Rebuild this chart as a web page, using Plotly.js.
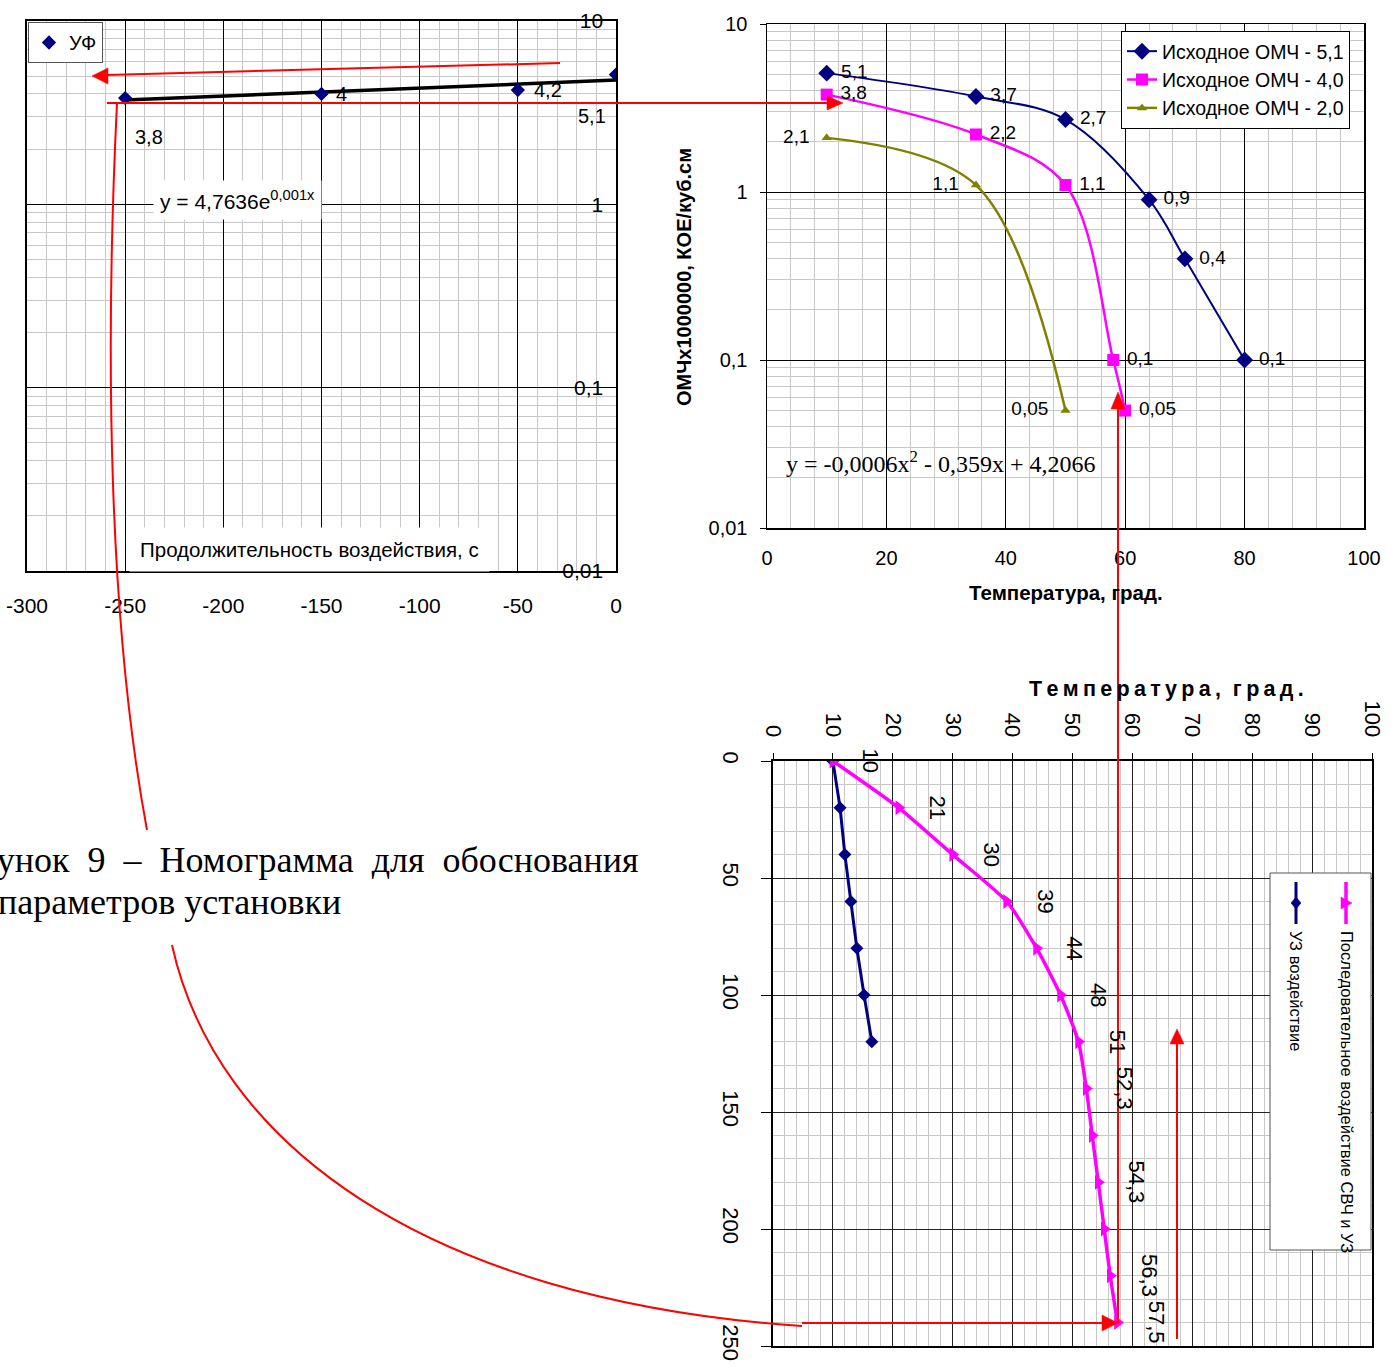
<!DOCTYPE html>
<html>
<head>
<meta charset="utf-8">
<script src="https://cdn.plot.ly/plotly-3.0.1.min.js"></script>
<style>
html,body{margin:0;padding:0;background:#fff;}
#chart{width:1398px;height:1369px;}
</style>
</head>
<body>
<div id="chart"></div>
<script>
// ---------- DATA ----------
// Top-left: UV exposure duration vs microbial count
const ufTime = [-250, -150, -50, 0];
const ufValue = [3.8, 4, 4.2, 5.1];
const ufTrendTime = [-250, 0];
const ufTrendValue = [3.71, 4.76];
const durationTicks = [-300, -250, -200, -150, -100, -50, 0];

// Top-right: temperature vs microbial count (three initial levels)
const temp51 = [10, 35, 50, 64, 70, 80];
const omch51 = [5.1, 3.7, 2.7, 0.9, 0.4, 0.1];
const temp40 = [10, 35, 50, 58, 60];
const omch40 = [3.8, 2.2, 1.1, 0.1, 0.05];
const temp20 = [10, 35, 50];
const omch20 = [2.1, 1.1, 0.05];
const seriesNames = ['Исходное ОМЧ - 5,1', 'Исходное ОМЧ - 4,0', 'Исходное ОМЧ - 2,0'];

// Bottom: exposure time vs temperature
const timeUZ = [0, 20, 40, 60, 80, 100, 120];
const tempUZ = [10, 11.2, 12, 13, 14, 15.2, 16.5];
const timeComb = [0, 20, 40, 60, 80, 100, 120, 140, 160, 180, 200, 220, 240];
const tempComb = [10, 21, 30, 39, 44, 48, 51, 52.3, 53.3, 54.3, 55.3, 56.3, 57.5];
const combLabelled = [1, 1, 1, 1, 1, 1, 1, 1, 0, 1, 0, 1, 1];
const bottomNames = ['УЗ воздействие', 'Последовательное воздействие СВЧ и УЗ'];

const logTickVals = [0.01, 0.1, 1, 10];
const logTickText = ['0,01', '0,1', '1', '10'];

// ---------- HELPERS ----------
const W = 1398, H = 1369;
const fx = p => p / W;
const fy = p => 1 - p / H;
const fmt = v => String(v).replace('.', ',');
const SANS = 'Liberation Sans, Arial, sans-serif';
const SERIF = 'Liberation Serif, Times New Roman, serif';
const NAVY = '#000080', MAG = '#FF00FF', OLIVE = '#808000', RED = '#FF0000';
const MINOR = '#c8c8c8';
const NB = '\u00a0';

function pline(x0, y0, x1, y1, color, w) {
  return {type: 'line', xref: 'paper', yref: 'paper', x0: fx(x0), y0: fy(y0), x1: fx(x1), y1: fy(y1),
          line: {color: color || RED, width: w || 2}};
}
function ppath(cmds, fill, color, w) {
  let d = cmds.map(c => {
    let s = c[0];
    for (let i = 1; i < c.length; i += 2) s += ' ' + fx(c[i]).toFixed(5) + ',' + fy(c[i + 1]).toFixed(5);
    return s;
  }).join(' ');
  return {type: 'path', xref: 'paper', yref: 'paper', path: d,
          fillcolor: fill || 'rgba(0,0,0,0)', line: {color: color || RED, width: w === undefined ? 2 : w}};
}
function tri(ax, ay, bx, by, cx, cy, col) {
  return ppath([['M', ax, ay], ['L', bx, by], ['L', cx, cy], ['Z']], col || RED, col || RED, 0.5);
}

// ---------- TRACES ----------
const labelFont = {size: 19, color: '#000', family: SANS};
const traces = [
  {x: ufTrendTime, y: ufTrendValue, xaxis: 'x', yaxis: 'y', mode: 'lines',
   line: {color: '#000', width: 3.5}, showlegend: false},
  {x: ufTime, y: ufValue, xaxis: 'x', yaxis: 'y', mode: 'markers', name: 'УФ',
   marker: {symbol: 'diamond', color: NAVY, size: 11}, legend: 'legend'},

  {x: temp51, y: omch51, xaxis: 'x2', yaxis: 'y2', mode: 'lines+markers+text', name: seriesNames[0],
   line: {color: NAVY, width: 2, shape: 'spline'}, marker: {symbol: 'diamond', color: NAVY, size: 13},
   text: omch51.map(v => NB + fmt(v)), textposition: 'middle right', textfont: labelFont,
   legend: 'legend2', cliponaxis: false},
  {x: temp40, y: omch40, xaxis: 'x2', yaxis: 'y2', mode: 'lines+markers+text', name: seriesNames[1],
   line: {color: MAG, width: 2.5, shape: 'spline'}, marker: {symbol: 'square', color: MAG, size: 12},
   text: omch40.map(v => NB + fmt(v)), textposition: 'middle right', textfont: labelFont,
   legend: 'legend2', cliponaxis: false},
  {x: temp20, y: omch20, xaxis: 'x2', yaxis: 'y2', mode: 'lines+markers+text', name: seriesNames[2],
   line: {color: OLIVE, width: 2.5, shape: 'spline'}, marker: {symbol: 'triangle-up', color: OLIVE, size: 9},
   text: omch20.map(v => fmt(v) + NB + NB), textposition: 'middle left', textfont: labelFont,
   legend: 'legend2', cliponaxis: false},

  {x: tempUZ, y: timeUZ, xaxis: 'x3', yaxis: 'y3', mode: 'lines+markers', name: bottomNames[0],
   line: {color: NAVY, width: 3}, marker: {symbol: 'diamond', color: NAVY, size: 10}, showlegend: false},
  {x: tempComb, y: timeComb, xaxis: 'x3', yaxis: 'y3', mode: 'lines+markers', name: bottomNames[1],
   line: {color: MAG, width: 3.5, shape: 'spline', smoothing: 0.6},
   marker: {symbol: 'triangle-right', color: MAG, size: 13}, showlegend: false}
];

// ---------- ANNOTATIONS ----------
const ann = [];
const ufLabelStyle = [
  {xanchor: 'left', xshift: 8, yshift: -39},
  {xanchor: 'left', xshift: 12, yshift: 0},
  {xanchor: 'left', xshift: 14, yshift: 0},
  {xanchor: 'right', xshift: -8, yshift: -41}
];
ufTime.forEach((t, i) => {
  ann.push(Object.assign({x: t, y: Math.log10(ufValue[i]), xref: 'x', yref: 'y', text: fmt(ufValue[i]),
    showarrow: false, yanchor: 'middle', font: {size: 20, family: SANS, color: '#000'}}, ufLabelStyle[i]));
});
ann.push({xref: 'paper', yref: 'paper', x: fx(153), y: fy(200), xanchor: 'left', yanchor: 'middle',
  text: 'y = 4,7636e<sup>0,001x</sup>', showarrow: false, bgcolor: '#fff', borderpad: 6,
  font: {size: 21, family: SANS, color: '#000'}});
ann.push({xref: 'paper', yref: 'paper', x: fx(309), y: fy(549), xanchor: 'center', yanchor: 'middle',
  text: 'Продолжительность воздействия, с', showarrow: false, bgcolor: '#fff', borderpad: 10,
  font: {size: 20.5, family: SANS, color: '#000'}});

ann.push({xref: 'paper', yref: 'paper', x: fx(684), y: fy(277), xanchor: 'center', yanchor: 'middle',
  textangle: -90, showarrow: false,
  text: '<b>ОМЧх1000000, КОЕ/куб.см</b>', font: {size: 20, family: SANS, color: '#000'}});
ann.push({xref: 'paper', yref: 'paper', x: fx(1066), y: fy(592), xanchor: 'center', yanchor: 'middle',
  showarrow: false, text: '<b>Температура, град.</b>', font: {size: 20.5, family: SANS, color: '#000'}});
ann.push({xref: 'paper', yref: 'paper', x: fx(784), y: fy(462), xanchor: 'left', yanchor: 'middle',
  showarrow: false, text: 'y = -0,0006x<sup>2</sup> - 0,359x + 4,2066',
  font: {size: 24, family: SERIF, color: '#000'}});

ann.push({xref: 'paper', yref: 'paper', x: fx(1166), y: fy(689), xanchor: 'center', yanchor: 'middle',
  showarrow: false,
  text: '<b>' + 'Температура,'.split('').join('\u2009') + NB + NB + 'град.'.split('').join('\u2009') + '</b>',
  font: {size: 21.5, family: SANS, color: '#000'}});
timeComb.forEach((t, i) => {
  if (!combLabelled[i]) return;
  ann.push({x: tempComb[i], y: t, xref: 'x3', yref: 'y3', text: fmt(tempComb[i]), textangle: 90,
    showarrow: false, xanchor: 'left', yanchor: 'middle', xshift: 24,
    font: {size: 22, family: SANS, color: '#000'}});
});
ann.push({xref: 'paper', yref: 'paper', x: fx(1347), y: fy(929), xanchor: 'center', yanchor: 'top',
  textangle: 90, showarrow: false, text: bottomNames[1], font: {size: 16.5, family: SANS, color: '#000'}});
ann.push({xref: 'paper', yref: 'paper', x: fx(1296), y: fy(929), xanchor: 'center', yanchor: 'top',
  textangle: 90, showarrow: false, text: bottomNames[0], font: {size: 16.5, family: SANS, color: '#000'}});

ann.push({xref: 'paper', yref: 'paper', x: fx(641), y: fy(860), xanchor: 'right', yanchor: 'middle',
  showarrow: false, text: ['Рисунок', '9', '–', 'Номограмма', 'для', 'обоснования'].join(NB + NB),
  font: {size: 36, family: SERIF, color: '#000'}});
ann.push({xref: 'paper', yref: 'paper', x: fx(-4), y: fy(902), xanchor: 'left', yanchor: 'middle',
  showarrow: false, text: 'параметров установки', font: {size: 36, family: SERIF, color: '#000'}});

// ---------- SHAPES ----------
const shapes = [
  {type: 'rect', xref: 'paper', yref: 'paper', x0: fx(1270), x1: fx(1371), y0: fy(1250), y1: fy(873),
   line: {color: '#555', width: 1}, fillcolor: '#fff'},
  pline(1346, 882, 1346, 924, MAG, 3.5),
  tri(1341, 897, 1352, 903, 1341, 909, MAG),
  pline(1296, 882, 1296, 924, NAVY, 3),
  ppath([['M', 1296, 897], ['L', 1301, 903], ['L', 1296, 909], ['L', 1291, 903], ['Z']], NAVY, NAVY, 0.5),

  pline(560, 63, 107, 75),
  tri(92, 76, 108, 68, 108, 84),
  pline(107, 103, 827, 103),
  tri(843, 103, 827, 96, 827, 110),
  pline(1118, 1323, 1118, 408),
  tri(1118, 392, 1111, 409, 1125, 409),
  pline(802, 1323, 1103, 1323),
  tri(1118, 1323, 1102, 1315, 1102, 1331),
  pline(1177, 1339, 1177, 1043),
  tri(1177, 1029, 1170, 1044, 1184, 1044),
  ppath([['M', 117, 103], ['C', 105, 350, 108, 620, 147, 830]], null, RED, 2),
  ppath([['M', 172, 945], ['C', 215, 1140, 420, 1300, 802, 1326]], null, RED, 2)
];

// ---------- LAYOUT ----------
const baseAxis = {showline: true, linecolor: '#000', mirror: true, zeroline: false,
  tickfont: {size: 20, family: SANS, color: '#000'}, fixedrange: true};

const layout = {
  width: W, height: H, margin: {l: 0, r: 0, t: 0, b: 0},
  paper_bgcolor: '#fff', plot_bgcolor: '#fff',
  font: {family: SANS, color: '#000'},
  hovermode: false,
  xaxis: Object.assign({}, baseAxis, {domain: [fx(27), fx(616)], anchor: 'y', range: [-300, 0],
    tickmode: 'array', tickvals: durationTicks, ticktext: durationTicks.map(String),
    linewidth: 2, gridcolor: '#000', gridwidth: 1, ticks: '', ticklabelstandoff: 15,
    tickfont: {size: 21, family: SANS, color: '#000'},
    minor: {tickmode: 'linear', tick0: 0, dtick: 10, showgrid: true, gridcolor: MINOR, gridwidth: 1}}),
  yaxis: Object.assign({}, baseAxis, {domain: [fy(571), fy(21)], anchor: 'x', type: 'log', range: [-2, 1],
    side: 'right', ticklabelposition: 'inside', ticklabeloverflow: 'allow', ticklabelstandoff: 14,
    tickvals: logTickVals, ticktext: logTickText, linewidth: 2, gridcolor: '#000', gridwidth: 1, ticks: '',
    tickfont: {size: 21, family: SANS, color: '#000'},
    minor: {dtick: 'D1', showgrid: true, gridcolor: MINOR, gridwidth: 1}}),

  xaxis2: Object.assign({}, baseAxis, {domain: [fx(767), fx(1364)], anchor: 'y2', range: [0, 100],
    tick0: 0, dtick: 20, linewidth: 1.5, gridcolor: '#000', gridwidth: 1, ticks: '', ticklabelstandoff: 11,
    minor: {dtick: 4, showgrid: true, gridcolor: MINOR, gridwidth: 1}}),
  yaxis2: Object.assign({}, baseAxis, {domain: [fy(528), fy(24)], anchor: 'x2', type: 'log', range: [-2, 1],
    tickvals: logTickVals, ticktext: logTickText, linewidth: 1.5, gridcolor: '#000', gridwidth: 1,
    ticks: 'outside', ticklen: 6, tickcolor: '#000', ticklabelstandoff: 8,
    minor: {dtick: 'D1', showgrid: true, gridcolor: MINOR, gridwidth: 1}}),

  xaxis3: Object.assign({}, baseAxis, {domain: [fx(773), fx(1372)], anchor: 'y3', side: 'top', range: [0, 100],
    tick0: 0, dtick: 10, tickangle: 90, linewidth: 2, gridcolor: '#222', gridwidth: 1,
    ticks: 'outside', ticklen: 6, tickcolor: '#000', ticklabelstandoff: 8,
    tickfont: {size: 22, family: SANS, color: '#000'},
    minor: {dtick: 2, showgrid: true, gridcolor: MINOR, gridwidth: 1}}),
  yaxis3: Object.assign({}, baseAxis, {domain: [fy(1346), fy(761)], anchor: 'x3', range: [250, 0],
    tick0: 0, dtick: 50, tickangle: 90, linewidth: 2, gridcolor: '#222', gridwidth: 1,
    ticks: 'outside', ticklen: 10, tickcolor: '#000', ticklabelstandoff: 12,
    tickfont: {size: 22, family: SANS, color: '#000'},
    minor: {dtick: 10, showgrid: true, gridcolor: MINOR, gridwidth: 1}}),

  legend: {x: fx(28), y: fy(22), xanchor: 'left', yanchor: 'top', bgcolor: '#fff', bordercolor: '#555',
    borderwidth: 1, font: {size: 20, family: SANS, color: '#000'}, itemwidth: 30},
  legend2: {x: fx(1121), y: fy(31), xanchor: 'left', yanchor: 'top', bgcolor: '#fff', bordercolor: '#000',
    borderwidth: 1, font: {size: 19.5, family: SANS, color: '#000'}, tracegroupgap: 0},
  annotations: ann,
  shapes: shapes
};

Plotly.newPlot('chart', traces, layout, {displayModeBar: false, staticPlot: true});
</script>
</body>
</html>
